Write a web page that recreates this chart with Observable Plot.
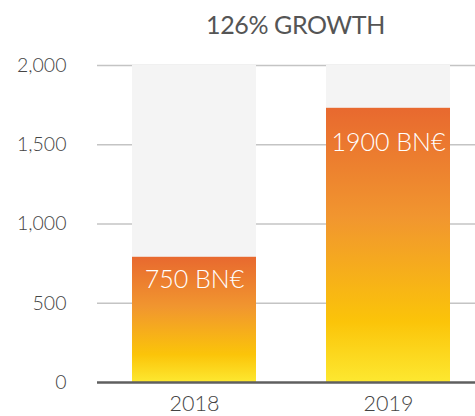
<!DOCTYPE html>
<html>
<head>
<meta charset="utf-8">
<script src="https://cdn.jsdelivr.net/npm/d3@7"></script>
<script src="https://cdn.jsdelivr.net/npm/@observablehq/plot@0.6"></script>
<style>
  body { margin: 0; background: #fff; font-family: Lato, "Open Sans", sans-serif; }
  #title { height: 50px; box-sizing: border-box; padding-top: 11px; padding-left: 116px; text-align: center;
           font-size: 25px; line-height: 26px; color: #555; font-family: Lato, sans-serif; letter-spacing: -0.4px; }
  svg { display: block; }
</style>
</head>
<body>
<div id="title">126% GROWTH</div>
<div id="chart"></div>
<script>
const years = ["2018", "2019"];
const values = [790, 1730];
const labels = ["750 BN€", "1900 BN€"];
const yTicks = [0, 500, 1000, 1500, 2000];
const yMax = 2000;

const data = years.map((y, i) => ({year: y, value: values[i], label: labels[i], full: yMax}));

const chart = Plot.plot({
  width: 475,
  height: 366,
  marginTop: 15,
  marginBottom: 34,
  marginLeft: 97,
  marginRight: 0,
  style: {fontFamily: "Lato, sans-serif", color: "#555", background: "#fff"},
  x: {type: "band", domain: years, range: [97, 485], paddingInner: 0.36, paddingOuter: 0.18, label: null},
  y: {domain: [0, yMax], label: null},
  marks: [
    Plot.ruleY(yTicks.filter(d => d > 0), {stroke: "#c4c4c4", strokeWidth: 1.3}),
    Plot.barY(data, {x: "year", y: "full", fill: "#f4f4f4"}),
    Plot.barY(data, {x: "year", y: "value", fill: "url(#barGrad)"}),
    Plot.text(data.filter((d, i) => i === 0), {x: "year", y: "value", text: "label", dy: 23, fill: "#fff", fontSize: 25, fontWeight: 300}),
    Plot.text(data.filter((d, i) => i === 1), {x: "year", y: "value", text: "label", dy: 35, fill: "#fff", fontSize: 25, fontWeight: 300}),
    Plot.ruleY([0], {stroke: "#5f5f5f", strokeWidth: 2.5}),
    Plot.axisY({ticks: yTicks, tickFormat: d3.format(","), tickSize: 0, tickPadding: 31, fontSize: 19.5, fontWeight: 300, fill: "#444", label: null}),
    Plot.axisX({tickSize: 0, tickPadding: 13, fontSize: 21.5, fontWeight: 300, fill: "#444", label: null})
  ]
});

const svg = d3.select(chart);
const grad = svg.insert("defs", ":first-child").append("linearGradient")
  .attr("id", "barGrad").attr("x1", 0).attr("y1", 0).attr("x2", 0).attr("y2", 1);
[[0, "#e8692f"], [0.4, "#f1962f"], [0.78, "#fbc409"], [1, "#fde830"]].forEach(([o, c]) =>
  grad.append("stop").attr("offset", o).attr("stop-color", c));

document.getElementById("chart").appendChild(chart);
</script>
</body>
</html>
